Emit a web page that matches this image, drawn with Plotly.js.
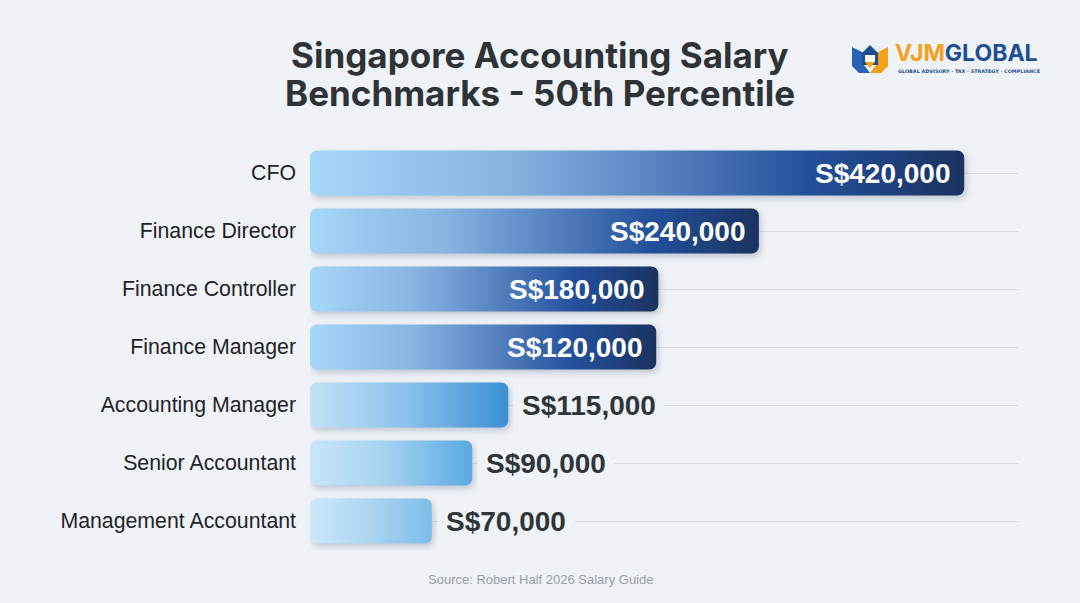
<!DOCTYPE html>
<html>
<head>
<meta charset="utf-8">
<script src="https://cdn.plot.ly/plotly-3.0.1.min.js"></script>
<style>
  html, body { margin: 0; padding: 0; background: #eff2f6; }
  #chart { width: 1080px; height: 603px; }
</style>
</head>
<body>
<div id="chart"></div>
<script>
// ---- Data ----
const categories = ['CFO', 'Finance Director', 'Finance Controller', 'Finance Manager',
                    'Accounting Manager', 'Senior Accountant', 'Management Accountant'];
const salaries = [420000, 240000, 180000, 120000, 115000, 90000, 70000];
// displayed bar length in the picture, as % of the plot width (bars are not drawn to scale)
const barLengths = [92.4, 63.4, 49.2, 48.9, 28.0, 22.9, 17.2];
const titleLines = ['Singapore Accounting Salary', 'Benchmarks - 50th Percentile'];
const sourceText = 'Source: Robert Half 2026 Salary Guide';

// ---- Styles ----
const BG = '#eff2f6';
const darkStops = [[0, '#a6d6f8'], [0.3, '#86b5e2'], [0.55, '#5280bd'], [0.76, '#23509c'], [1, '#1a3360']];
const gradients = [
  darkStops, darkStops, darkStops, darkStops,
  [[0, '#c2e2f8'], [0.5, '#88c0eb'], [1, '#3b8fd6']],
  [[0, '#c9e6f9'], [0.5, '#a0d0f0'], [1, '#5aa9e1']],
  [[0, '#cce8f9'], [0.5, '#aad5f2'], [1, '#7dbde9']]
];
const fallbackColors = ['#1a3360', '#1a3360', '#1a3360', '#1a3360', '#3b8fd6', '#5aa9e1', '#7dbde9'];

const fmt = v => 'S$' + v.toLocaleString('en-US');
const insideLabel = barLengths.map(l => l > 40);

// geometry helpers for decorations (pixel -> paper)
const ML = 310, MR = 62, MT = 144, MB = 53, W = 1080, H = 603;
const PW = W - ML - MR, PH = H - MT - MB;
const px = x => (x - ML) / PW;
const py = y => (H - MB - y) / PH;
const poly = pts => 'M' + pts.map(p => px(p[0]).toFixed(4) + ',' + py(p[1]).toFixed(4)).join(' L') + ' Z';

const trace = {
  type: 'bar',
  orientation: 'h',
  y: categories,
  x: barLengths,
  marker: { color: fallbackColors, line: { width: 0 } },
  hoverinfo: 'skip',
  textposition: 'none'
};

const annotations = categories.map((c, i) => {
  const inside = insideLabel[i];
  return {
    x: barLengths[i], y: c, xref: 'x', yref: 'y',
    text: '<b>' + fmt(salaries[i]) + '</b>',
    showarrow: false,
    xanchor: inside ? 'right' : 'left',
    xshift: inside ? -13 : 5,
    font: { family: 'Liberation Sans, Arial, sans-serif', size: 28, color: inside ? '#ffffff' : '#30353a' },
    bgcolor: inside ? 'rgba(0,0,0,0)' : BG,
    borderpad: inside ? 0 : 8
  };
});

// title lines
titleLines.forEach((t, i) => {
  annotations.push({
    x: px(540), y: py(i === 0 ? 55 : 93), xref: 'paper', yref: 'paper',
    xanchor: 'center', yanchor: 'middle', showarrow: false,
    text: '<b>' + t + '</b>',
    font: { family: 'Inter, Roboto, sans-serif', size: 35, color: '#2e3338' }
  });
});

annotations.push({
  x: px(540), y: py(579), xref: 'paper', yref: 'paper', xanchor: 'center', yanchor: 'middle',
  text: sourceText, showarrow: false,
  font: { family: 'Liberation Sans, Arial, sans-serif', size: 13, color: '#9aa0a7' }
});

// logo text
annotations.push({
  x: px(893), y: py(53), xref: 'paper', yref: 'paper', xanchor: 'left', yanchor: 'middle',
  text: '<b><span style="color:#f4a11d">VJM</span><span style="color:#1e4e91">GLOBAL</span></b>',
  showarrow: false,
  font: { family: 'Inter, DejaVu Sans, sans-serif', size: 23, color: '#1e4e91' }
});
annotations.push({
  x: px(896), y: py(71.5), xref: 'paper', yref: 'paper', xanchor: 'left', yanchor: 'middle',
  text: '<b>GLOBAL ADVISORY · TAX · STRATEGY · COMPLIANCE</b>',
  showarrow: false,
  font: { family: 'DejaVu Sans, sans-serif', size: 4.9, color: '#1e4e91' }
});

const shapes = [
  { type: 'path', xref: 'paper', yref: 'paper', path: poly([[852, 47], [864, 53], [864, 65], [870, 73], [859, 73], [852, 66]]), fillcolor: '#2a62b8', line: { width: 0 } },
  { type: 'path', xref: 'paper', yref: 'paper', path: poly([[888, 47], [876, 53], [876, 65], [870, 73], [881, 73], [888, 66]]), fillcolor: '#f4a11d', line: { width: 0 } },
  { type: 'path', xref: 'paper', yref: 'paper', path: poly([[862, 53], [870, 45], [878, 53], [878, 65], [862, 65]]), fillcolor: '#1e4e91', line: { width: 0 } },
  { type: 'path', xref: 'paper', yref: 'paper', path: poly([[865, 55], [875, 55], [875, 62], [865, 62]]), fillcolor: '#ffffff', line: { width: 0 } },
  { type: 'path', xref: 'paper', yref: 'paper', path: poly([[865, 62], [875, 62], [870, 68]]), fillcolor: '#f4a11d', line: { width: 0 } }
];

const layout = {
  width: W, height: H,
  margin: { l: ML, r: MR, t: MT, b: MB, pad: 0 },
  paper_bgcolor: BG,
  plot_bgcolor: 'rgba(0,0,0,0)',
  showlegend: false,
  bargap: 0.224,
  barcornerradius: 7,
  xaxis: {
    range: [0, 100], fixedrange: true,
    showgrid: false, zeroline: false, showline: false, showticklabels: false, ticks: ''
  },
  yaxis: {
    autorange: 'reversed', type: 'category', fixedrange: true,
    showgrid: true, gridcolor: '#d9dde3', gridwidth: 1,
    zeroline: false, showline: false, ticks: '',
    ticklabelstandoff: 13,
    tickfont: { family: 'Liberation Sans, Arial, sans-serif', size: 21.3, color: '#1f2326' }
  },
  annotations: annotations,
  shapes: shapes
};

Plotly.newPlot('chart', [trace], layout, { displayModeBar: false, staticPlot: true }).then(gd => {
  const svg = gd.querySelector('svg.main-svg');
  const NS = 'http://www.w3.org/2000/svg';
  let defs = svg.querySelector('defs');
  if (!defs) { defs = document.createElementNS(NS, 'defs'); svg.insertBefore(defs, svg.firstChild); }
  const paths = gd.querySelectorAll('.barlayer .point path');
  paths.forEach((p, i) => {
    const stops = gradients[i];
    if (!stops) return;
    const g = document.createElementNS(NS, 'linearGradient');
    g.setAttribute('id', 'barGrad' + i);
    g.setAttribute('x1', '0'); g.setAttribute('x2', '1');
    g.setAttribute('y1', '0'); g.setAttribute('y2', '0');
    stops.forEach(s => {
      const st = document.createElementNS(NS, 'stop');
      st.setAttribute('offset', s[0]);
      st.setAttribute('stop-color', s[1]);
      g.appendChild(st);
    });
    defs.appendChild(g);
    // round all four corners of the bar drawn by Plotly
    const b = p.getBBox();
    const r = Math.min(7, b.height / 2, b.width / 2);
    const x0 = b.x, y0 = b.y, x1 = b.x + b.width, y1 = b.y + b.height;
    p.setAttribute('d',
      `M${x0 + r},${y0}H${x1 - r}A${r},${r} 0 0 1 ${x1},${y0 + r}V${y1 - r}A${r},${r} 0 0 1 ${x1 - r},${y1}` +
      `H${x0 + r}A${r},${r} 0 0 1 ${x0},${y1 - r}V${y0 + r}A${r},${r} 0 0 1 ${x0 + r},${y0}Z`);
    p.style.fill = 'url(#barGrad' + i + ')';
    p.style.filter = 'drop-shadow(2px 3px 3px rgba(20,40,80,0.22))';
  });
});
</script>
</body>
</html>
